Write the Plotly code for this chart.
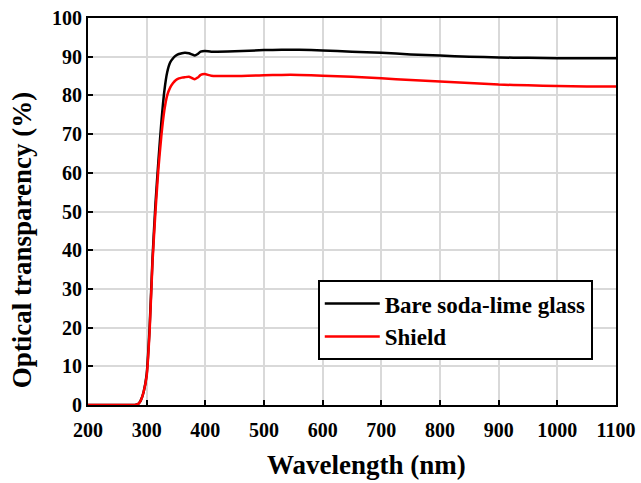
import plotly.graph_objects as go

wavelength = [200, 250, 280, 286, 290, 295, 300, 305, 310, 315, 320, 325, 330, 335, 340, 345, 350, 355, 360, 365, 372, 377, 382, 387, 392, 399, 410, 450, 500, 530, 560, 600, 650, 700, 750, 800, 850, 900, 950, 1000, 1050, 1100]
bare = [0, 0, 0, 0.3, 1.2, 3.5, 8, 20, 38, 52, 63, 73, 81, 86, 88.5, 89.6, 90.3, 90.7, 90.9, 91.0, 90.9, 90.6, 90.3, 90.7, 91.3, 91.5, 91.3, 91.4, 91.7, 91.8, 91.8, 91.6, 91.3, 91.0, 90.6, 90.3, 90.0, 89.8, 89.7, 89.6, 89.6, 89.6]
shield = [0, 0, 0, 0.3, 1.2, 3.5, 7.5, 19, 37, 50, 61, 69.5, 76, 80, 82, 83.2, 84, 84.4, 84.6, 84.7, 84.8, 84.5, 84.2, 84.6, 85.3, 85.5, 85.1, 85.0, 85.2, 85.3, 85.3, 85.1, 84.8, 84.4, 84.0, 83.6, 83.2, 82.8, 82.6, 82.4, 82.3, 82.3]

xticks = [200, 300, 400, 500, 600, 700, 800, 900, 1000, 1100]
yticks = [0, 10, 20, 30, 40, 50, 60, 70, 80, 90, 100]

FONT = "Liberation Serif"

fig = go.Figure()
fig.add_trace(go.Scatter(x=wavelength, y=bare, mode="lines", name="Bare soda-lime glass",
                         line=dict(color="black", width=2.5, shape="spline", smoothing=0.5)))
fig.add_trace(go.Scatter(x=wavelength, y=shield, mode="lines", name="Shield",
                         line=dict(color="#ff0000", width=2.5, shape="spline", smoothing=0.5)))

axis_common = dict(showline=True, linecolor="black", linewidth=2, mirror=True,
                   ticks="inside", ticklen=5, tickwidth=2, tickcolor="black",
                   showgrid=True, gridcolor="#d9d9d9", gridwidth=1.5, zeroline=False,
                   automargin=False, ticklabeloverflow="allow",
                   tickfont=dict(family=FONT, size=20, color="black", weight="bold"))

fig.update_xaxes(range=[200, 1100], tickvals=xticks, ticklabelstandoff=6, **axis_common)
fig.update_yaxes(range=[0, 100], tickvals=yticks, ticklabelstandoff=0, **axis_common)

fig.add_annotation(text="<b>Wavelength (nm)</b>", xref="paper", yref="paper",
                   x=0.527, y=-0.155, xanchor="center", yanchor="middle", showarrow=False,
                   font=dict(family=FONT, size=27, color="black"))
fig.add_annotation(text="<b>Optical transparency (%)</b>", xref="paper", yref="paper",
                   x=-0.125, y=0.426, xanchor="center", yanchor="middle", showarrow=False,
                   textangle=-90, font=dict(family=FONT, size=27, color="black"))

fig.update_layout(
    width=641, height=483,
    margin=dict(l=88, r=25, t=18, b=78, autoexpand=False),
    plot_bgcolor="white", paper_bgcolor="white",
    legend=dict(x=0.956, y=0.116, xanchor="right", yanchor="bottom",
                bordercolor="black", borderwidth=2, bgcolor="white",
                font=dict(family=FONT, size=23, color="black", weight="bold"),
                tracegroupgap=0, itemwidth=55),
    showlegend=True,
)

fig.write_html("out.html", config={"displayModeBar": False},
               post_script="document.body.style.margin='0';document.body.style.overflow='hidden';")
